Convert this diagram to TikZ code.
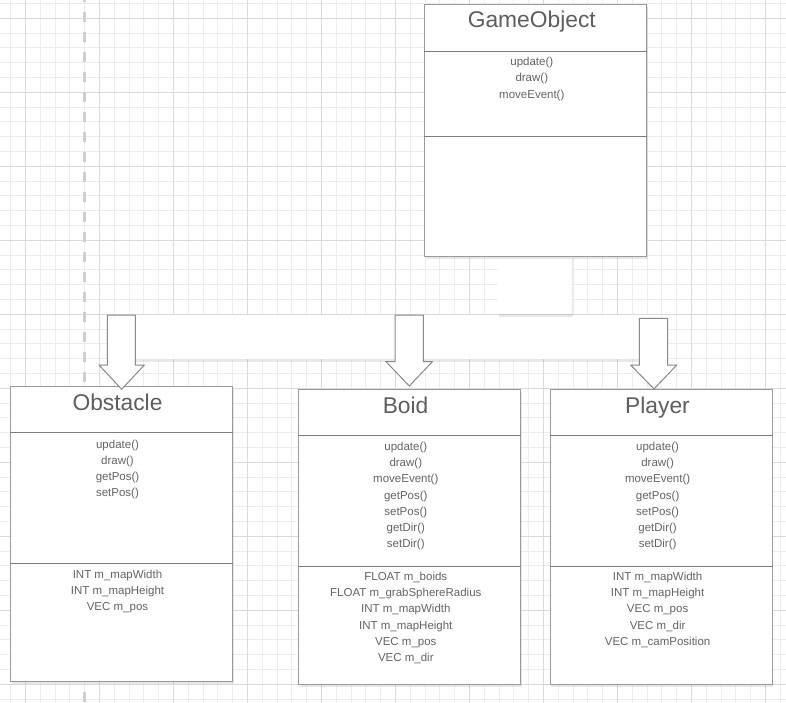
\documentclass[tikz,border=0pt]{standalone}
\usepackage{fontspec}
\setmainfont{Liberation Sans}
\usetikzlibrary{shadows}
\definecolor{gridminor}{HTML}{EDEDED}
\definecolor{gridmajor}{HTML}{DADADA}
\definecolor{boxborder}{HTML}{999999}
\definecolor{divider}{HTML}{7C7C7C}
\definecolor{txt}{HTML}{646464}
\definecolor{titlec}{HTML}{5E5E5E}
\definecolor{dashc}{HTML}{CFCFCF}
\definecolor{arrowc}{HTML}{888888}
\begin{document}
\begin{tikzpicture}[x=1pt,y=-1pt,
  softshadow/.style={drop shadow={opacity=0.18,shadow xshift=1.2pt,shadow yshift=-2.2pt}},
  classbox/.style={draw=boxborder,line width=1pt,fill=white,softshadow,
    minimum width=222pt,inner sep=0pt,anchor=north west},
  divline/.style={draw=divider,line width=1pt},
  member/.style={font=\fontsize{11.5}{13}\selectfont,text=txt,inner sep=0pt,
    anchor=center,text height=8.4pt,text depth=2.4pt},
  classtitle/.style={font=\fontsize{22.8}{26}\selectfont,text=titlec,inner sep=0pt,anchor=base},
  blockarrow/.style={draw=arrowc,line width=1pt,fill=white,line join=miter},
  plain/.style={fill=white,softshadow}
]
% canvas
\useasboundingbox (0,0) rectangle (786,703);
\fill[white] (0,0) rectangle (786,703);
\begin{scope}
\clip (0,0) rectangle (786,703);
\foreach \k in {-1,...,52}{
  \draw[gridminor,line width=1pt] ({25.5+14.8*\k},0) -- ({25.5+14.8*\k},703);
}
\foreach \k in {-1,...,47}{
  \draw[gridminor,line width=1pt] (0,{18.3+14.8*\k}) -- (786,{18.3+14.8*\k});
}
\foreach \k in {0,...,10}{
  \draw[gridmajor,line width=1pt] ({25.5+74*\k},0) -- ({25.5+74*\k},703);
}
\foreach \k in {0,...,9}{
  \draw[gridmajor,line width=1pt] (0,{18.3+74*\k}) -- (786,{18.3+74*\k});
}
\draw[dashc,line width=3pt,dash pattern=on 10pt off 10pt] (84,-8.3) -- (84,712);
\end{scope}

% connector bar and stub
\fill[plain] (121,315) rectangle (653,359.3);
\fill[plain] (497.7,256) rectangle (572,314.3);

% GameObject
\node[classbox,minimum height=251.7pt] (gameobject) at (424.3,4.3) {};
\draw[divline] (gameobject.west |- 0,51.7) -- (gameobject.east |- 0,51.7);
\draw[divline] (gameobject.west |- 0,137) -- (gameobject.east |- 0,137);
\node[classtitle] (gotitle) at (531.8,28) {GameObject};
\foreach [count=\i from 0] \t in {update(),draw(),moveEvent()}
  \node[member] (gom\i) at (531.8,{62.3+16.7*\i}) {\t};

% Obstacle
\node[classbox,minimum height=295pt] (obstacle) at (10,386) {};
\draw[divline] (obstacle.west |- 0,432.3) -- (obstacle.east |- 0,432.3);
\draw[divline] (obstacle.west |- 0,563.3) -- (obstacle.east |- 0,563.3);
\node[classtitle] (obtitle) at (117.5,410.6) {Obstacle};
\foreach [count=\i from 0] \t in {update(),draw(),getPos(),setPos()}
  \node[member] (obm\i) at (117.5,{445+16.1*\i}) {\t};
\foreach [count=\i from 0] \t in {INT m\_mapWidth,INT m\_mapHeight,VEC m\_pos}
  \node[member] (oba\i) at (117.5,{575+16.2*\i}) {\t};

% Boid
\node[classbox,minimum height=295.3pt] (boid) at (298.3,389) {};
\draw[divline] (boid.west |- 0,435.7) -- (boid.east |- 0,435.7);
\draw[divline] (boid.west |- 0,566.3) -- (boid.east |- 0,566.3);
\node[classtitle] (botitle) at (405.6,413.6) {Boid};
\foreach [count=\i from 0] \t in {update(),draw(),moveEvent(),getPos(),setPos(),getDir(),setDir()}
  \node[member] (bom\i) at (405.8,{447.3+16.28*\i}) {\t};
\foreach [count=\i from 0] \t in {FLOAT m\_boids,FLOAT m\_grabSphereRadius,INT m\_mapWidth,INT m\_mapHeight,VEC m\_pos,VEC m\_dir}
  \node[member] (boa\i) at (405.8,{577.3+16.28*\i}) {\t};

% Player
\node[classbox,minimum height=295.3pt] (player) at (549.6,389) {};
\draw[divline] (player.west |- 0,435.7) -- (player.east |- 0,435.7);
\draw[divline] (player.west |- 0,566.3) -- (player.east |- 0,566.3);
\node[classtitle] (pltitle) at (657.5,413.6) {Player};
\foreach [count=\i from 0] \t in {update(),draw(),moveEvent(),getPos(),setPos(),getDir(),setDir()}
  \node[member] (plm\i) at (657.6,{447.3+16.28*\i}) {\t};
\foreach [count=\i from 0] \t in {INT m\_mapWidth,INT m\_mapHeight,VEC m\_pos,VEC m\_dir,VEC m\_camPosition}
  \node[member] (pla\i) at (657.6,{577.3+16.25*\i}) {\t};

% block arrows (inheritance)
\coordinate (tipO) at (121.7,389.3);
\coordinate (tipB) at (409.3,386);
\coordinate (tipP) at (654,389);
\draw[blockarrow] (107.3,315) -- (135.3,315) -- (135.3,365) -- (144.3,365)
  -- (tipO) -- (99,365) -- (107.3,365) -- cycle;
\draw[blockarrow] (395,315) -- (423.3,315) -- (423.3,361.7) -- (432.3,361.7)
  -- (tipB) -- (386,361.7) -- (395,361.7) -- cycle;
\draw[blockarrow] (639.3,318.3) -- (667.7,318.3) -- (667.7,365) -- (676.7,365)
  -- (tipP) -- (630.7,365) -- (639.3,365) -- cycle;
\end{tikzpicture}
\end{document}
